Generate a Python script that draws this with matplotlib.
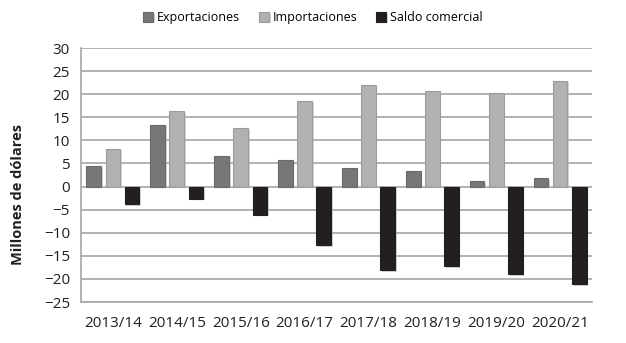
import numpy as np
import matplotlib.pyplot as plt
import matplotlib.patheffects as pe

plt.rcParams['font.family'] = ['Open Sans', 'DejaVu Sans']

years = ['2013/14', '2014/15', '2015/16', '2016/17', '2017/18', '2018/19', '2019/20', '2020/21']
exportaciones = [4.4, 13.4, 6.7, 5.8, 4.0, 3.4, 1.2, 1.8]
importaciones = [8.2, 16.3, 12.7, 18.5, 22.1, 20.8, 20.2, 22.9]
saldo = [-3.8, -2.6, -6.1, -12.7, -18.1, -17.3, -18.9, -21.1]

fig = plt.figure(figsize=(6.26, 3.43), dpi=100)
ax = fig.add_axes([0.1294, 0.1195, 0.8163, 0.7405])

x = np.arange(len(years))
w = 0.23
shadow = [pe.SimplePatchShadow(offset=(1.2, -1.2), shadow_rgbFace='#bbbbbb', alpha=0.6), pe.Normal()]
series = [
    (exportaciones, -0.3, '#77777a', '#6a6a6d', 'Exportaciones'),
    (importaciones, 0.0, '#b1b1b4', '#9c9c9f', 'Importaciones'),
    (saldo, 0.3, '#231f20', '#231f20', 'Saldo comercial'),
]
for vals, off, fc, ec, lab in series:
    bars = ax.bar(x + off, vals, w, color=fc, edgecolor=ec, linewidth=0.8, label=lab, zorder=3)
    for b in bars:
        b.set_path_effects(shadow)

ax.set_xlim(-0.5, len(years) - 0.5)
ax.set_ylim(-25, 30)
ax.set_yticks(range(-25, 31, 5))
ax.set_xticks(x)
ax.set_xticklabels(years)
ax.yaxis.grid(True, color='#a6a6a6', linewidth=1.2, zorder=0)
ax.set_axisbelow(True)
ax.tick_params(length=0, labelsize=11, colors='#231f20', pad=8)
ax.tick_params(axis='x', pad=10)
for s in ['top', 'right']:
    ax.spines[s].set_visible(False)
for s in ['left', 'bottom']:
    ax.spines[s].set_color('#a6a6a6')
    ax.spines[s].set_linewidth(1.2)

ax.set_ylabel('Millones de dólares', fontsize=10.5, fontweight='bold', color='#231f20')
ax.yaxis.set_label_coords(-0.11, 0.425)

fig.legend(loc='upper center', bbox_to_anchor=(0.5, 1.0), ncol=3, frameon=False,
           fontsize=9, handlelength=0.8, handleheight=0.8, handletextpad=0.3, columnspacing=1.5)

fig.savefig('out.png', dpi=100)
